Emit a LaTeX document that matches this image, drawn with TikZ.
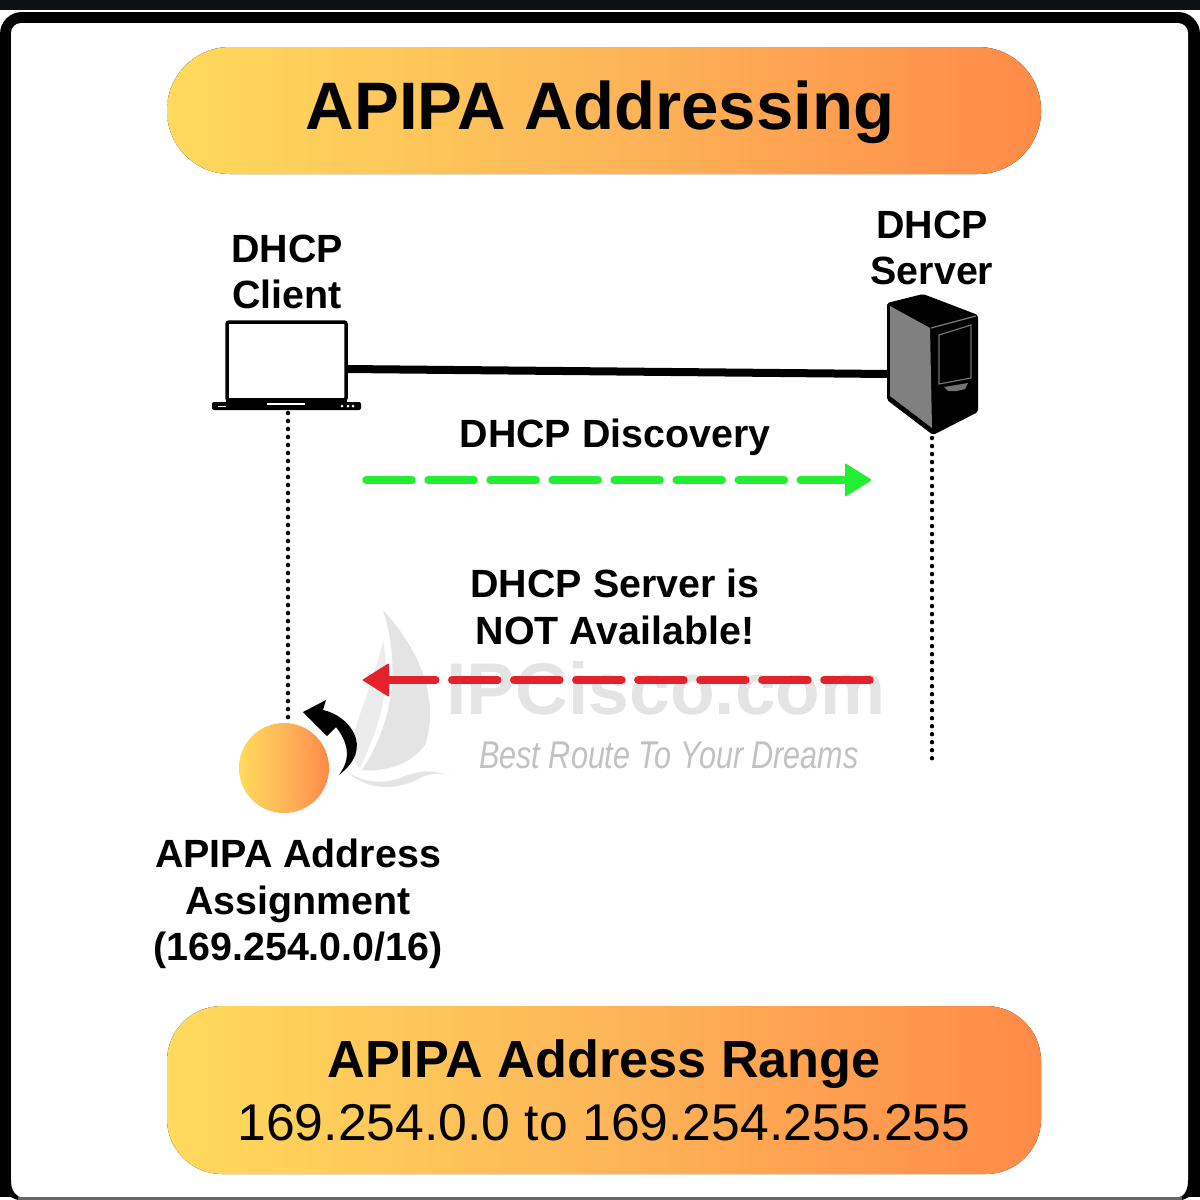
\documentclass[tikz,border=0pt]{standalone}
\usepackage{fontspec}
\setmainfont{Liberation Sans}
\usetikzlibrary{calc}
\definecolor{topbar}{HTML}{0D1117}
\definecolor{pillyellow}{HTML}{FFDA5C}
\definecolor{pillmid}{HTML}{FDB658}
\definecolor{pillorange}{HTML}{FF8A48}
\definecolor{dhcpgreen}{HTML}{22EE33}
\definecolor{dhcpred}{HTML}{E4222B}
\definecolor{wmark}{HTML}{E4E4E4}
\tikzset{
  pill/.style={rounded corners=#1, left color=pillyellow, right color=pillorange, middle color=pillmid, draw=none},
  lbl/.style={font=\fontsize{11.2}{13.2}\selectfont\bfseries, align=center, inner sep=0pt},
  dotline/.style={line width=0.045cm, line cap=round, dash pattern=on 0pt off 0.08cm},
  msgdash/.style={line width=0.075cm, line cap=round, dash pattern=on 0.46cm off 0.16cm},
}
\begin{document}
\begin{tikzpicture}[x=0.01cm,y=-0.01cm]
\useasboundingbox (0,0) rectangle (1200,1200);
\fill [white] (0,0) rectangle (1200,1200);
\fill [topbar] (0,0) rectangle (1200,10);
\fill [black, rounded corners=0.22cm] (0,12) rectangle (1200,1218);
\fill [white] (0,1197) rectangle (1200,1200);
\fill [white, rounded corners=0.1cm] (11,23) rectangle (1188,1197);
\fill [black!60] (18,1197) rectangle (1182,1200);
\fill [black] (0,1180) .. controls (2,1190) and (8,1197) .. (18,1200) -- (18,1196) .. controls (13,1193) and (11,1188) .. (11,1180) -- cycle;
\fill [black] (1200,1180) .. controls (1198,1190) and (1192,1197) .. (1182,1200) -- (1182,1196) .. controls (1186,1193) and (1188,1188) .. (1188,1180) -- cycle;

\fill [pill=0.63cm] (167,47) rectangle (1041,174);
\fill [pill=0.55cm] (167,1006) rectangle (1041,1174);
\node [font=\fontsize{19.1}{22}\selectfont\bfseries] (title) at (600,112) {APIPA Addressing};
\node [font=\fontsize{14.85}{17}\selectfont\bfseries] (range) at (604,1064) {APIPA Address Range};
\node [font=\fontsize{14.7}{17}\selectfont] (rangeval) at (604,1123) {169.254.0.0 to 169.254.255.255};

\fill [wmark] (383,610) .. controls (420,650) and (440,700) .. (425,745) .. controls (410,765) and (385,772) .. (362,770) .. controls (385,735) and (405,680) .. (383,610);
\fill [wmark!70] (383,640) .. controls (375,680) and (355,720) .. (352,745) .. controls (352,755) and (355,765) .. (360,768) .. controls (378,730) and (392,690) .. (383,640);
\fill [wmark] (345,770) .. controls (365,790) and (395,792) .. (420,778) .. controls (430,773) and (440,772) .. (450,776) .. controls (430,768) and (415,772) .. (400,778) .. controls (380,785) and (360,782) .. (345,770);
\node [font=\fontsize{20.8}{24}\selectfont\bfseries, text=wmark] (wmtext) at (666,688) {IPCisco.com};
\node [font=\fontsize{11}{13}\selectfont\itshape, text=wmark!85!black, xscale=0.79] (wmsub) at (669,755) {Best Route To Your Dreams};

\node [lbl] (client) at (287,272) {DHCP\\Client};
\node [lbl] (server) at (932,248) {DHCP\\Server};
\node [lbl] (disc) at (615,437) {DHCP Discovery};
\node [lbl] (notav) at (615,607) {DHCP Server is\\NOT Available!};
\node [lbl] (assign) at (298,904) {APIPA Address\\Assignment\\(169.254.0.0/16)};

\coordinate (lapR) at (346,369);
\coordinate (srvL) at (889,374);
\draw [line width=0.08cm] (lapR) to (srvL);

\draw [black, line width=0.035cm, rounded corners=0.02cm] (227,322) rectangle (346,400);
\fill [black, rounded corners=0.02cm] (212,402) rectangle (361,410);
\fill [black] (226,398) rectangle (347,404);
\fill [white] (267,402.5) rectangle (305,404.5);
\fill [white] (342,406) circle (1.5) (348,406) circle (1.5) (353,406) circle (1.5);
\fill [white] (218,405.5) rectangle (226,407);
\coordinate (lapB) at (288,413);

\fill [black, rounded corners=0.02cm] (887,303) -- (923,294) -- (978,315) -- (978,412) -- (933,435) -- (887,400) -- cycle;
\fill [black!50] (890,306) -- (930,328) -- (932,428) -- (890,396) -- cycle;
\draw [black!50, line width=0.012cm] (931,328) -- (976,316);
\draw [black!55, line width=0.012cm] (939,335) -- (971,325) -- (971,378) -- (939,384) -- cycle;
\fill [black!55] (944,387) -- (968,383) -- (965,389) -- (957,391) -- (948,391) -- cycle;
\coordinate (srvB) at (932,438);

\coordinate (ballT) at (288,722);
\coordinate (dotEnd) at (932,762);
\draw [dotline] (lapB) to (ballT);
\draw [dotline] (srvB) to (dotEnd);

\coordinate (gS) at (366,480);
\coordinate (gE) at (848,480);
\draw [dhcpgreen, msgdash] (gS) to (gE);
\fill [dhcpgreen, rounded corners=0.01cm] (845,463) -- (872,480) -- (845,497) -- cycle;

\coordinate (rS) at (870,680);
\coordinate (rE) at (388,680);
\draw [dhcpred, msgdash] (rS) to (rE);
\fill [dhcpred, rounded corners=0.01cm] (389,663) -- (362,680) -- (389,697) -- cycle;

\node [circle, minimum size=0.9cm, inner sep=0pt, left color=pillyellow, right color=pillorange, middle color=pillmid] (ball) at (284,768) {};

\fill [black] (339,775) .. controls (350,760) and (350,745) .. (336,727) -- (327,736) -- (303,712) -- (326,700) -- (323,710) .. controls (348,715) and (376,747) .. (339,775);
\end{tikzpicture}
\end{document}
